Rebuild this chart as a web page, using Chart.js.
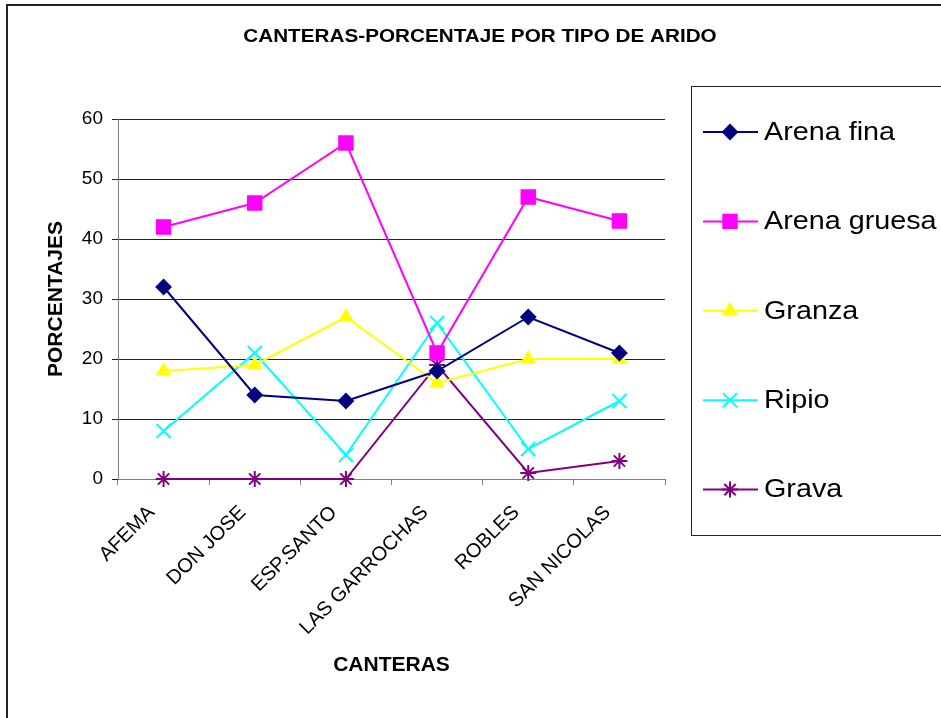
<!DOCTYPE html>
<html>
<head>
<meta charset="utf-8">
<title>Canteras - porcentaje por tipo de árido</title>
<script src="https://cdn.jsdelivr.net/npm/chart.js@4/dist/chart.umd.min.js"></script>
<style>
  html, body { margin: 0; padding: 0; background: #fff; }
  #chart { display: block; }
</style>
</head>
<body>
<canvas id="chart" width="941" height="718"></canvas>
<script>
// Canteras y porcentajes por tipo de árido
const canteras = ['AFEMA', 'DON JOSE', 'ESP.SANTO', 'LAS GARROCHAS', 'ROBLES', 'SAN NICOLAS'];
const arenaFina = [32, 14, 13, 18, 27, 21];
const arenaGruesa = [42, 46, 56, 21, 47, 43];
const granza = [18, 19, 27, 16, 20, 20];
const ripio = [8, 21, 4, 26, 5, 13];
const grava = [0, 0, 0, 19, 1, 3];
const yTicks = [0, 10, 20, 30, 40, 50, 60];

const FONT = 'Arial, "Liberation Sans", sans-serif';

function serie(label, data, color, pointStyle, radius) {
  return {
    label, data,
    borderColor: color,
    backgroundColor: color,
    borderWidth: 2,
    pointStyle,
    pointRadius: radius,
    pointBorderWidth: 2,
    pointBorderColor: color,
    pointBackgroundColor: color,
    tension: 0,
    clip: false
  };
}

const series = [
  serie('Arena fina', arenaFina, '#000080', 'rectRot', 7),
  serie('Arena gruesa', arenaGruesa, '#FF00FF', 'rect', 9.5),
  serie('Granza', granza, '#FFFF00', 'triangle', 7),
  serie('Ripio', ripio, '#00FFFF', 'crossRot', 10),
  serie('Grava', grava, '#800080', 'star', 8)
];

// texto algo ensanchado, como en la hoja original
function wideText(ctx, text, x, y, sx) {
  ctx.save();
  ctx.translate(x, y);
  ctx.scale(sx, 1);
  ctx.fillText(text, 0, 0);
  ctx.restore();
}

// marco, título y leyenda con recuadro dibujados a mano
const extras = {
  id: 'extras',
  beforeDraw(chart) {
    const ctx = chart.ctx;
    ctx.save();
    ctx.fillStyle = '#fff';
    ctx.fillRect(0, 0, chart.width, chart.height);
    ctx.strokeStyle = '#222';
    ctx.lineWidth = 2;
    ctx.strokeRect(7, 5, 1200, 1200);
    ctx.restore();
  },
  afterDraw(chart) {
    const ctx = chart.ctx;
    ctx.save();
    ctx.fillStyle = '#000';
    ctx.font = 'bold 18px ' + FONT;
    ctx.textAlign = 'center';
    ctx.textBaseline = 'middle';
    wideText(ctx, 'CANTERAS-PORCENTAJE POR TIPO DE ARIDO', 480, 37, 1.15);

    // leyenda
    ctx.strokeStyle = '#222';
    ctx.lineWidth = 1;
    ctx.strokeRect(691.5, 86.5, 400, 449);
    ctx.font = '25px ' + FONT;
    ctx.textAlign = 'left';
    series.forEach((ds, i) => {
      const y = 132 + i * 89.4;
      ctx.strokeStyle = ds.borderColor;
      ctx.lineWidth = 2;
      ctx.beginPath();
      ctx.moveTo(703, y);
      ctx.lineTo(758, y);
      ctx.stroke();
      ctx.fillStyle = ds.backgroundColor;
      Chart.helpers.drawPoint(ctx, { pointStyle: ds.pointStyle, radius: ds.pointRadius, borderWidth: 2 }, 730, y);
      ctx.fillStyle = '#000';
      wideText(ctx, ds.label, 764, y + 1, 1.15);
    });
    ctx.restore();
  }
};

new Chart(document.getElementById('chart'), {
  type: 'line',
  data: { labels: canteras, datasets: series },
  plugins: [extras],
  options: {
    responsive: false,
    animation: false,
    layout: { padding: { top: 119, right: 276, left: 0, bottom: 0 } },
    plugins: {
      legend: { display: false },
      title: { display: false },
      tooltip: { enabled: false }
    },
    scales: {
      x: {
        offset: true,
        grid: { offset: true, drawOnChartArea: false, color: '#808080', tickLength: 6 },
        border: { color: '#808080' },
        ticks: {
          color: '#000', minRotation: 45, maxRotation: 45, padding: 16, labelOffset: -12,
          font: { family: FONT, size: 20 }
        },
        title: {
          display: true, text: 'CANTERAS', color: '#000',
          font: { family: FONT, size: 21, weight: 'bold' },
          padding: { top: 0, bottom: 40 }
        },
        afterFit(scale) { scale.height = 239; }
      },
      y: {
        min: 0, max: 60,
        afterBuildTicks(scale) { scale.ticks = yTicks.map(v => ({ value: v })); },
        grid: { color: '#222', tickLength: 6 },
        border: { color: '#808080' },
        ticks: {
          color: '#000', padding: 9,
          font: { family: FONT, size: 19 }
        },
        title: {
          display: true, text: 'PORCENTAJES', color: '#000',
          font: { family: FONT, size: 21, weight: 'bold' },
          padding: { top: 44, bottom: 0 }
        },
        afterFit(scale) { scale.width = 118; }
      }
    }
  }
});
</script>
</body>
</html>
